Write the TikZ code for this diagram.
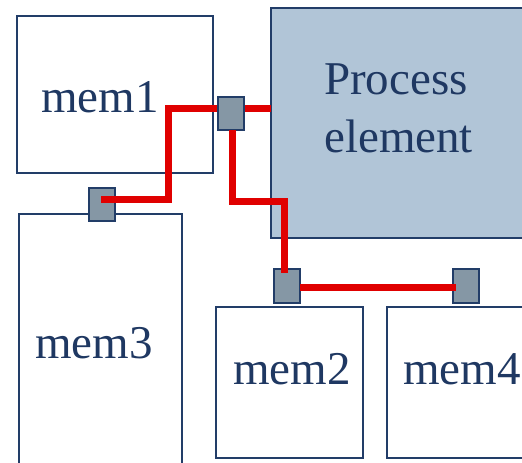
\documentclass[tikz,border=0pt]{standalone}
\usepackage{fontspec}
\setmainfont{Liberation Serif}
\definecolor{navy}{HTML}{223D68}
\definecolor{txt}{HTML}{1F3862}
\definecolor{pefill}{HTML}{B1C5D7}
\definecolor{sqfill}{HTML}{8597A5}
\definecolor{wire}{HTML}{E00000}
\begin{document}
\begin{tikzpicture}[x=1pt,y=-1pt,
  box/.style={draw=navy, line width=1.8pt, fill=white, anchor=north west, inner sep=0pt, outer sep=0pt},
  pebox/.style={box, fill=pefill},
  port/.style={draw=navy, line width=2.4pt, fill=sqfill, anchor=north west, inner sep=0pt, outer sep=0pt, minimum width=26pt, minimum height=33pt},
  lbl/.style={anchor=base west, inner sep=0pt, text=txt, font=\fontsize{47}{54}\selectfont},
  redwire/.style={draw=wire, line width=7pt}]
\useasboundingbox (0,0) rectangle (522,463);
\clip (0,0) rectangle (522,463);
% boxes
\node[box, minimum width=196pt, minimum height=157pt] (mem1) at (17,16) {};
\node[pebox, minimum width=260pt, minimum height=230pt] (pe) at (271,8) {};
\node[box, minimum width=163pt, minimum height=270pt] (mem3) at (19,214) {};
\node[box, minimum width=147pt, minimum height=151pt] (mem2) at (216,307) {};
\node[box, minimum width=150pt, minimum height=151pt] (mem4) at (387,307) {};
% labels
\node[lbl] (t1) at (41,112) {mem1};
\node[lbl] (t2) at (324,94) {Process};
\node[lbl] (t3) at (324,152) {element};
\node[lbl] (t4) at (35,358) {mem3};
\node[lbl] (t5) at (233,384) {mem2};
\node[lbl] (t6) at (403,384) {mem4};
% coordinates for wire bends
\coordinate (a1) at (168,108);
\coordinate (a2) at (168,199.5);
\coordinate (a3) at (101,199.5);
\coordinate (b1) at (232,201);
\coordinate (b2) at (284.5,201);
\coordinate (b3) at (284.5,273);
\coordinate (c1) at (456,287);
% wire behind port 1
\draw[redwire] (pe.west |- a1) -- (a1) -- (a2);
% ports
\node[port] (p1) at (218,97) {};
\node[port] (p3) at (89,188) {};
\node[port, minimum height=34pt] (p2) at (274,269) {};
\node[port, minimum height=34pt] (p4) at (453,269) {};
% wires over ports
\draw[redwire] (168,190) -- (a2) -- (a3);
\draw[redwire] (p1.south -| b1) -- (b1) -- (b2) -- (b3);
\draw[redwire] (p2.east |- c1) -- (c1);
\end{tikzpicture}
\end{document}
